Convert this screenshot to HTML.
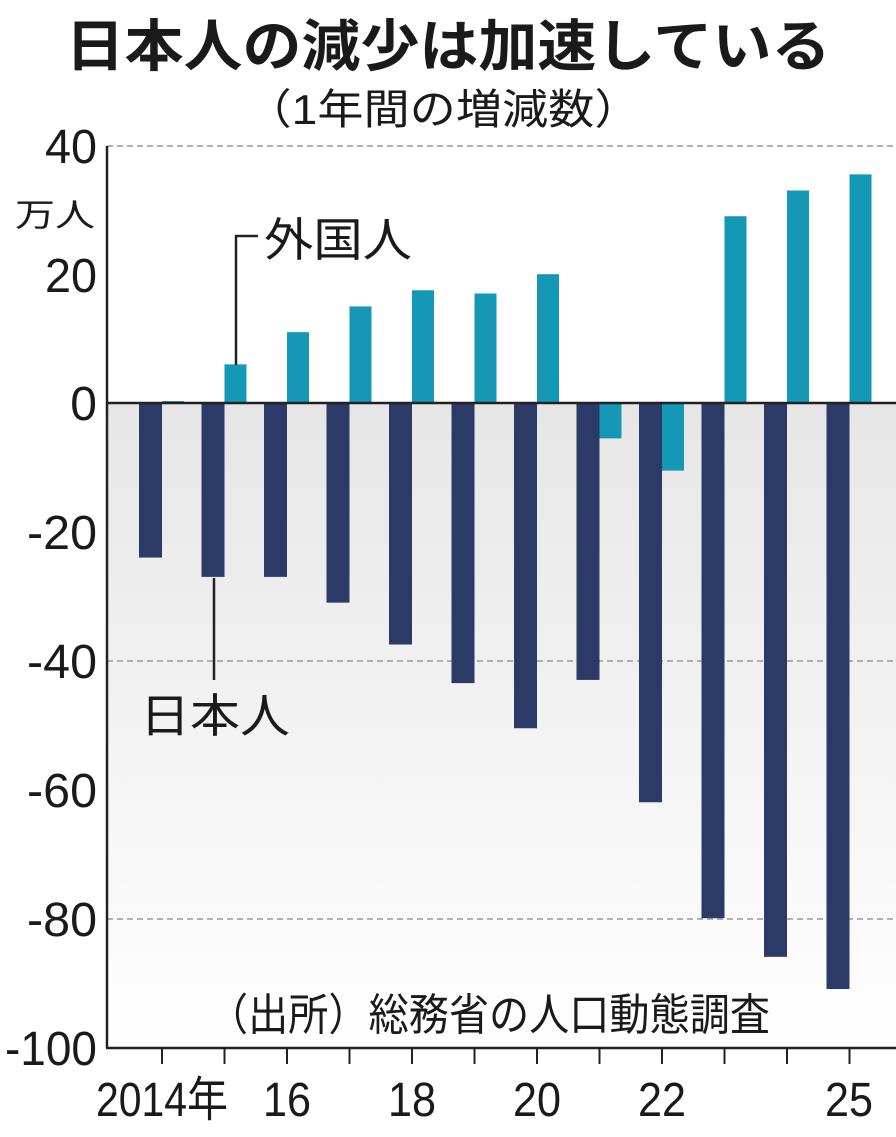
<!DOCTYPE html>
<html><head><meta charset="utf-8"><style>
body{margin:0;background:#fff;}
svg text{font-family:"Liberation Sans","Noto Sans CJK JP",sans-serif;fill:#1a1a1a;}
</style></head><body>
<svg width="896" height="1132" viewBox="0 0 896 1132" xmlns="http://www.w3.org/2000/svg">
<defs><linearGradient id="g" x1="0" y1="0" x2="0" y2="1"><stop offset="0" stop-color="#e6e6e6"/><stop offset="1" stop-color="#ffffff"/></linearGradient></defs>
<rect x="107" y="403" width="789" height="645" fill="url(#g)"/>
<g stroke="#999" stroke-width="1.5" stroke-dasharray="6,4">
<line x1="107" y1="146" x2="896" y2="146"/><line x1="107" y1="661" x2="896" y2="661"/><line x1="107" y1="919" x2="896" y2="919"/>
</g>
<g id="bars"></g>
<line x1="107" y1="403" x2="896" y2="403" stroke="#222" stroke-width="2.5"/>
<line x1="107" y1="146" x2="107" y2="1048" stroke="#222" stroke-width="2.5"/>
<line x1="106" y1="1048" x2="896" y2="1048" stroke="#222" stroke-width="2.5"/>
<g id="ticks" stroke="#222" stroke-width="2"></g>
<g font-size="48" text-anchor="end">
<text x="97" y="163" textLength="52" lengthAdjust="spacingAndGlyphs">40</text>
<text x="97" y="292" textLength="52" lengthAdjust="spacingAndGlyphs">20</text>
<text x="97" y="420">0</text>
<text x="97" y="549" textLength="70" lengthAdjust="spacingAndGlyphs">-20</text>
<text x="97" y="678" textLength="70" lengthAdjust="spacingAndGlyphs">-40</text>
<text x="97" y="807" textLength="70" lengthAdjust="spacingAndGlyphs">-60</text>
<text x="97" y="936" textLength="70" lengthAdjust="spacingAndGlyphs">-80</text>
<text x="97" y="1065" textLength="92" lengthAdjust="spacingAndGlyphs">-100</text>
</g>
<g font-size="48" text-anchor="middle">
<text x="162" y="1116" textLength="132" lengthAdjust="spacingAndGlyphs">2014年</text>
<text x="287" y="1116" textLength="48" lengthAdjust="spacingAndGlyphs">16</text>
<text x="412" y="1116" textLength="48" lengthAdjust="spacingAndGlyphs">18</text>
<text x="537" y="1116" textLength="48" lengthAdjust="spacingAndGlyphs">20</text>
<text x="662" y="1116" textLength="48" lengthAdjust="spacingAndGlyphs">22</text>
<text x="849" y="1116" textLength="48" lengthAdjust="spacingAndGlyphs">25</text>
</g>
<text x="448" y="66" font-size="56" font-weight="bold" text-anchor="middle" textLength="765" lengthAdjust="spacingAndGlyphs">日本人の減少は加速している</text>
<text x="443" y="124" font-size="42" text-anchor="middle" textLength="395" lengthAdjust="spacingAndGlyphs">（1年間の増減数）</text>
<text x="15" y="226" font-size="32" textLength="80" lengthAdjust="spacingAndGlyphs">万人</text>
<text x="264" y="256" font-size="46" textLength="148" lengthAdjust="spacingAndGlyphs">外国人</text>
<text x="140" y="732" font-size="46" textLength="150" lengthAdjust="spacingAndGlyphs">日本人</text>
<text x="208" y="1030" font-size="44" textLength="562" lengthAdjust="spacingAndGlyphs">（出所）総務省の人口動態調査</text>
<polyline points="236,365 236,236 258,236" fill="none" stroke="#222" stroke-width="2.5"/>
<line x1="214" y1="578" x2="214" y2="680" stroke="#222" stroke-width="2.5"/>
</svg>
<script>
var ns="http://www.w3.org/2000/svg";
var jp=[-24,-27,-27,-31,-37.5,-43.5,-50.5,-43,-62,-80,-86,-91];
var fo=[0.3,6,11,15,17.5,17,20,-5.5,-10.5,29,33,35.5];
var g=document.getElementById("bars"),t=document.getElementById("ticks");
function y(v){return 403-v*6.44;}
for(var i=0;i<12;i++){
 var tx=162+i*62.5;
 var r=document.createElementNS(ns,"rect");
 r.setAttribute("x",tx-23);r.setAttribute("width",23);
 r.setAttribute("y",403);r.setAttribute("height",-jp[i]*6.44);r.setAttribute("fill","#2b3a67");g.appendChild(r);
 var f=document.createElementNS(ns,"rect");
 var a=y(Math.max(fo[i],0)),b=y(Math.min(fo[i],0));
 f.setAttribute("x",tx);f.setAttribute("width",22);f.setAttribute("y",a);f.setAttribute("height",Math.max(b-a,1.5));f.setAttribute("fill","#1597b6");g.appendChild(f);
 var l=document.createElementNS(ns,"line");
 l.setAttribute("x1",tx);l.setAttribute("x2",tx);l.setAttribute("y1",1048);l.setAttribute("y2",1064);t.appendChild(l);
}
</script>
</body></html>
